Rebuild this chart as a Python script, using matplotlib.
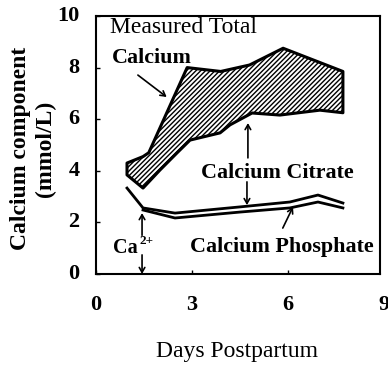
import matplotlib
matplotlib.use("Agg")
import matplotlib.pyplot as plt

# Measured total calcium band (upper and lower edges)
total_upper_days = [0.97, 1.47, 1.65, 2.85, 3.9, 4.8, 5.85, 7.72]
total_upper_vals = [4.30, 4.55, 4.70, 8.00, 7.85, 8.10, 8.75, 7.85]
total_lower_days = [0.97, 1.47, 2.0, 2.53, 2.94, 3.88, 4.19, 4.88, 5.75, 7.0, 7.72]
total_lower_vals = [3.84, 3.33, 4.03, 4.69, 5.19, 5.47, 5.78, 6.24, 6.16, 6.35, 6.25]

# Boundary between citrate and phosphate fractions
citrate_days = [0.97, 1.47, 2.47, 4.5, 6.06, 6.94, 7.72]
citrate_vals = [3.33, 2.56, 2.36, 2.60, 2.79, 3.06, 2.75]

# Boundary between phosphate and ionized calcium
phosphate_days = [1.47, 2.47, 4.5, 6.06, 6.94, 7.72]
phosphate_vals = [2.48, 2.17, 2.40, 2.56, 2.79, 2.56]

x_ticks = [0, 3, 6, 9]
y_ticks = [0, 2, 4, 6, 8, 10]

plt.rcParams["hatch.linewidth"] = 1.0

fig = plt.figure(figsize=(3.88, 3.71), dpi=100)
ax = fig.add_axes([0.2474, 0.2615, 0.979 - 0.2474, 0.9569 - 0.2615])
ax.set_xlim(0, 8.875)
ax.set_ylim(0, 10)

serif = ["Liberation Serif", "DejaVu Serif"]

# hatched band for measured total calcium
poly_x = total_upper_days + total_lower_days[::-1]
poly_y = total_upper_vals + total_lower_vals[::-1]
ax.fill(poly_x, poly_y, facecolor="white", edgecolor="black", hatch="///////", lw=2.2,
        joinstyle="round", zorder=2)

ax.plot(citrate_days, citrate_vals, color="black", lw=2.0, zorder=3)
ax.plot(phosphate_days, phosphate_vals, color="black", lw=2.0, zorder=3)

# ticks and tick labels
ax.set_xticks([t for t in x_ticks if t <= 8.875])
ax.set_yticks(y_ticks)
ax.tick_params(direction="in", length=3, width=1, labelbottom=False, labelleft=False)
for t in x_ticks:
    ax.text(t, -1.2, str(t), ha="center", va="center", fontsize=16, fontweight="bold",
            family=serif, clip_on=False)
for t in y_ticks:
    ax.text(-0.52, t, str(t), ha="right", va="center", fontsize=16, fontweight="bold",
            family=serif, clip_on=False)
for s in ax.spines.values():
    s.set_linewidth(1.5)

# axis titles
fig.text(0.054, 0.60, "Calcium component", rotation=90, ha="center", va="center",
         fontsize=17, fontweight="bold", family=serif)
fig.text(0.116, 0.60, "(mmol/L)", rotation=90, ha="center", va="center",
         fontsize=17, fontweight="bold", family=serif)
fig.text(0.612, 0.052, "Days Postpartum", ha="center", va="center", fontsize=17, family=serif)

# annotations
ax.text(0.44, 9.34, "Measured Total", ha="left", va="baseline", fontsize=17, family=serif)
ax.text(0.50, 8.18, "Calcium", ha="left", va="baseline", fontsize=15.8, fontweight="bold", family=serif)
ax.text(3.28, 3.72, "Calcium Citrate", ha="left", va="baseline", fontsize=15.8, fontweight="bold", family=serif)
ax.text(2.94, 0.85, "Calcium Phosphate", ha="left", va="baseline", fontsize=15.8, fontweight="bold", family=serif)
ax.text(0.53, 0.81, "Ca", ha="left", va="baseline", fontsize=14.5, fontweight="bold", family=serif)
ax.text(1.36, 1.17, "2+", ha="left", va="baseline", fontsize=9.5, fontweight="bold", family=serif)

arrow = dict(arrowstyle="->,head_length=0.35,head_width=0.2", color="black", lw=1.2,
             shrinkA=0, shrinkB=0)
ax.annotate("", xy=(2.21, 6.86), xytext=(1.31, 7.71), arrowprops=arrow)
ax.annotate("", xy=(4.75, 5.85), xytext=(4.75, 4.5), arrowprops=arrow)
ax.annotate("", xy=(4.72, 2.67), xytext=(4.72, 3.57), arrowprops=arrow)
ax.annotate("", xy=(1.44, 2.36), xytext=(1.44, 1.5), arrowprops=arrow)
ax.annotate("", xy=(1.44, 0.0), xytext=(1.44, 0.74), arrowprops=arrow)
ax.annotate("", xy=(6.16, 2.6), xytext=(5.84, 1.78), arrowprops=arrow)

fig.savefig("out.png", dpi=100)
